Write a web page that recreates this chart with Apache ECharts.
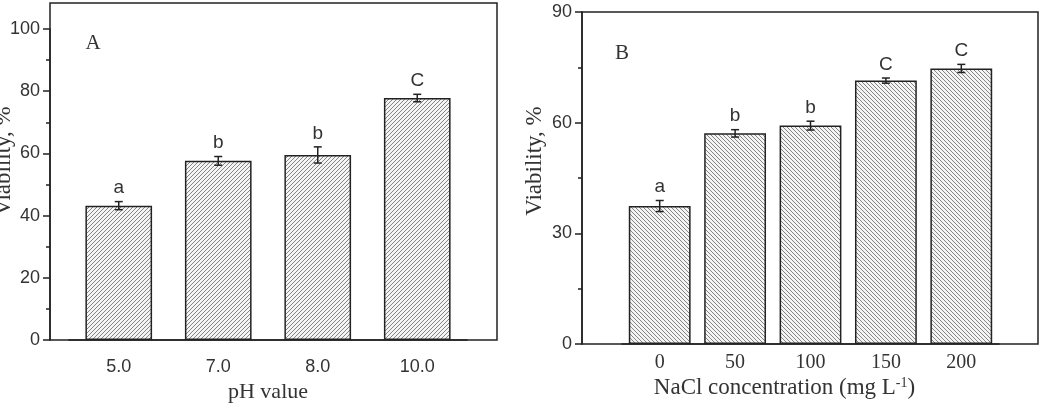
<!DOCTYPE html>
<html>
<head>
<meta charset="utf-8">
<script src="https://cdn.jsdelivr.net/npm/echarts@6/dist/echarts.min.js"></script>
<style>
  html, body { margin: 0; padding: 0; background: #fff; }
  #chart { width: 1041px; height: 405px; }
</style>
</head>
<body>
<div id="chart"></div>
<script>
// panel A: pH
const phCats = ['5.0', '7.0', '8.0', '10.0'];
const phVals = [43.2, 57.6, 59.5, 77.8];
const phErr = [1.3, 1.4, 2.6, 1.2];
const phLetters = ['a', 'b', 'b', 'C'];
// panel B: NaCl
const naclCats = ['0', '50', '100', '150', '200'];
const naclVals = [37.4, 57.1, 59.2, 71.4, 74.7];
const naclErr = [1.5, 1.0, 1.2, 0.7, 1.1];
const naclLetters = ['a', 'b', 'b', 'C', 'C'];

const SANS = 'Liberation Sans';
const SERIF = 'Liberation Serif';
const INK = '#222';

function hatch(dir) {
    const s = 4;
    const c = document.createElement('canvas');
    c.width = s; c.height = s;
    const g = c.getContext('2d');
    g.fillStyle = '#f4f4f4';
    g.fillRect(0, 0, s, s);
    g.strokeStyle = '#858585';
    g.lineWidth = 1;
    g.beginPath();
    if (dir > 0) {
        g.moveTo(0, s); g.lineTo(s, 0);
        g.moveTo(-1, 1); g.lineTo(1, -1);
        g.moveTo(s - 1, s + 1); g.lineTo(s + 1, s - 1);
    } else {
        g.moveTo(0, 0); g.lineTo(s, s);
        g.moveTo(-1, s - 1); g.lineTo(1, s + 1);
        g.moveTo(s - 1, -1); g.lineTo(s + 1, 1);
    }
    g.stroke();
    return c;
}

function errData(vals, err) {
    return vals.map((v, i) => [i, v - err[i], v + err[i]]);
}

function errRender(letters) {
    return function (params, api) {
        const x = api.value(0);
        const p1 = api.coord([x, api.value(1)]);
        const p2 = api.coord([x, api.value(2)]);
        const w = 4;
        const st = { stroke: INK, lineWidth: 1.5 };
        return {
            type: 'group',
            children: [
                { type: 'line', shape: { x1: p1[0], y1: p1[1], x2: p2[0], y2: p2[1] }, style: st },
                { type: 'line', shape: { x1: p1[0] - w, y1: p1[1], x2: p1[0] + w, y2: p1[1] }, style: st },
                { type: 'line', shape: { x1: p2[0] - w, y1: p2[1], x2: p2[0] + w, y2: p2[1] }, style: st },
                {
                    type: 'text', x: p2[0], y: p2[1] - 4,
                    style: {
                        text: letters[params.dataIndex], fill: '#333',
                        font: '19px "' + SANS + '"', align: 'center', verticalAlign: 'bottom'
                    }
                }
            ]
        };
    };
}

const chart = echarts.init(document.getElementById('chart'));

const hidden = { type: 'value', show: false };

const option = {
    animation: false,
    backgroundColor: '#fff',
    grid: [
        { left: 50, top: 3, width: 447, height: 337, show: true, borderColor: INK, borderWidth: 1.5, outerBoundsMode: 'none' },
        { left: 69, top: 29, width: 398, height: 311, outerBoundsMode: 'none' },
        { left: 582, top: 12, width: 456, height: 332, show: true, borderColor: INK, borderWidth: 1.5, outerBoundsMode: 'none' },
        { left: 622, top: 12, width: 377, height: 332, outerBoundsMode: 'none' }
    ],
    graphic: [
        { type: 'text', x: 93, y: 43, style: { text: 'A', font: '21px "' + SERIF + '"', fill: '#333', align: 'center', verticalAlign: 'middle' } },
        { type: 'text', x: 622, y: 53, style: { text: 'B', font: '21px "' + SERIF + '"', fill: '#333', align: 'center', verticalAlign: 'middle' } }
    ],
    xAxis: [
        Object.assign({ gridIndex: 0 }, hidden),
        {
            gridIndex: 1, type: 'category', data: phCats, position: 'bottom',
            axisLine: { lineStyle: { color: INK, width: 1.5 } },
            axisTick: { alignWithLabel: true, length: 6, lineStyle: { color: INK, width: 1.5 } },
            axisLabel: { margin: 18, color: '#333', fontFamily: SANS, fontSize: 18 },
            name: 'pH value', nameLocation: 'middle', nameGap: 41, nameMoveOverlap: false,
            nameTextStyle: { fontFamily: SERIF, fontSize: 22, color: '#333' }
        },
        {
            gridIndex: 1, type: 'category', data: phCats, position: 'bottom',
            axisLine: { show: false },
            axisTick: { alignWithLabel: false, length: 3, lineStyle: { color: INK, width: 1.5 } },
            axisLabel: { show: false }
        },
        Object.assign({ gridIndex: 2 }, hidden),
        {
            gridIndex: 3, type: 'category', data: naclCats, position: 'bottom',
            axisLine: { lineStyle: { color: INK, width: 1.5 } },
            axisTick: { alignWithLabel: true, length: 6, lineStyle: { color: INK, width: 1.5 } },
            axisLabel: { margin: 9, color: '#333', fontFamily: SERIF, fontSize: 20 },
            name: 'NaCl concentration (mg L{sup|-1})', nameLocation: 'middle', nameGap: 32, nameMoveOverlap: false,
            nameTextStyle: {
                fontFamily: SERIF, fontSize: 23, color: '#333', padding: [0, 52, 0, 0],
                rich: { sup: { fontFamily: SERIF, fontSize: 14, color: '#333', verticalAlign: 'top', padding: [0, 0, 10, 0] } }
            }
        }
    ],
    yAxis: [
        Object.assign({ gridIndex: 0 }, hidden),
        {
            gridIndex: 1, type: 'value', min: 0, max: 100, interval: 20, offset: 19,
            axisLine: { show: true, lineStyle: { color: INK, width: 1.5 } },
            axisTick: { show: true, length: 7, lineStyle: { color: INK, width: 1.5 } },
            minorTick: { show: true, splitNumber: 2, length: 4, lineStyle: { color: INK, width: 1.5 } },
            splitLine: { show: false },
            axisLabel: { margin: 10, color: '#333', fontFamily: SANS, fontSize: 18 },
            name: 'Viability, %', nameLocation: 'middle', nameGap: 35, nameMoveOverlap: false,
            nameTextStyle: { fontFamily: SERIF, fontSize: 23, color: '#333', padding: [0, 0, 0, 47] }
        },
        Object.assign({ gridIndex: 2 }, hidden),
        {
            gridIndex: 3, type: 'value', min: 0, max: 90, interval: 30, offset: 40,
            axisLine: { show: true, lineStyle: { color: INK, width: 1.5 } },
            axisTick: { show: true, length: 7, lineStyle: { color: INK, width: 1.5 } },
            minorTick: { show: true, splitNumber: 2, length: 4, lineStyle: { color: INK, width: 1.5 } },
            splitLine: { show: false },
            axisLabel: { margin: 10, color: '#333', fontFamily: SANS, fontSize: 18 },
            name: 'Viability, %', nameLocation: 'middle', nameGap: 36, nameMoveOverlap: false,
            nameTextStyle: { fontFamily: SERIF, fontSize: 23, color: '#333', padding: [0, 0, 0, 34] }
        }
    ],
    series: [
        {
            type: 'bar', xAxisIndex: 1, yAxisIndex: 1, data: phVals, barWidth: '67%',
            itemStyle: { color: { image: hatch(1), repeat: 'repeat' }, borderColor: INK, borderWidth: 1.5 }
        },
        {
            type: 'custom', xAxisIndex: 1, yAxisIndex: 1, z: 5,
            data: errData(phVals, phErr), renderItem: errRender(phLetters)
        },
        {
            type: 'bar', xAxisIndex: 4, yAxisIndex: 3, data: naclVals, barWidth: '82%',
            itemStyle: { color: { image: hatch(-1), repeat: 'repeat' }, borderColor: INK, borderWidth: 1.5 }
        },
        {
            type: 'custom', xAxisIndex: 4, yAxisIndex: 3, z: 5,
            data: errData(naclVals, naclErr), renderItem: errRender(naclLetters)
        }
    ]
};

chart.setOption(option);
</script>
</body>
</html>
